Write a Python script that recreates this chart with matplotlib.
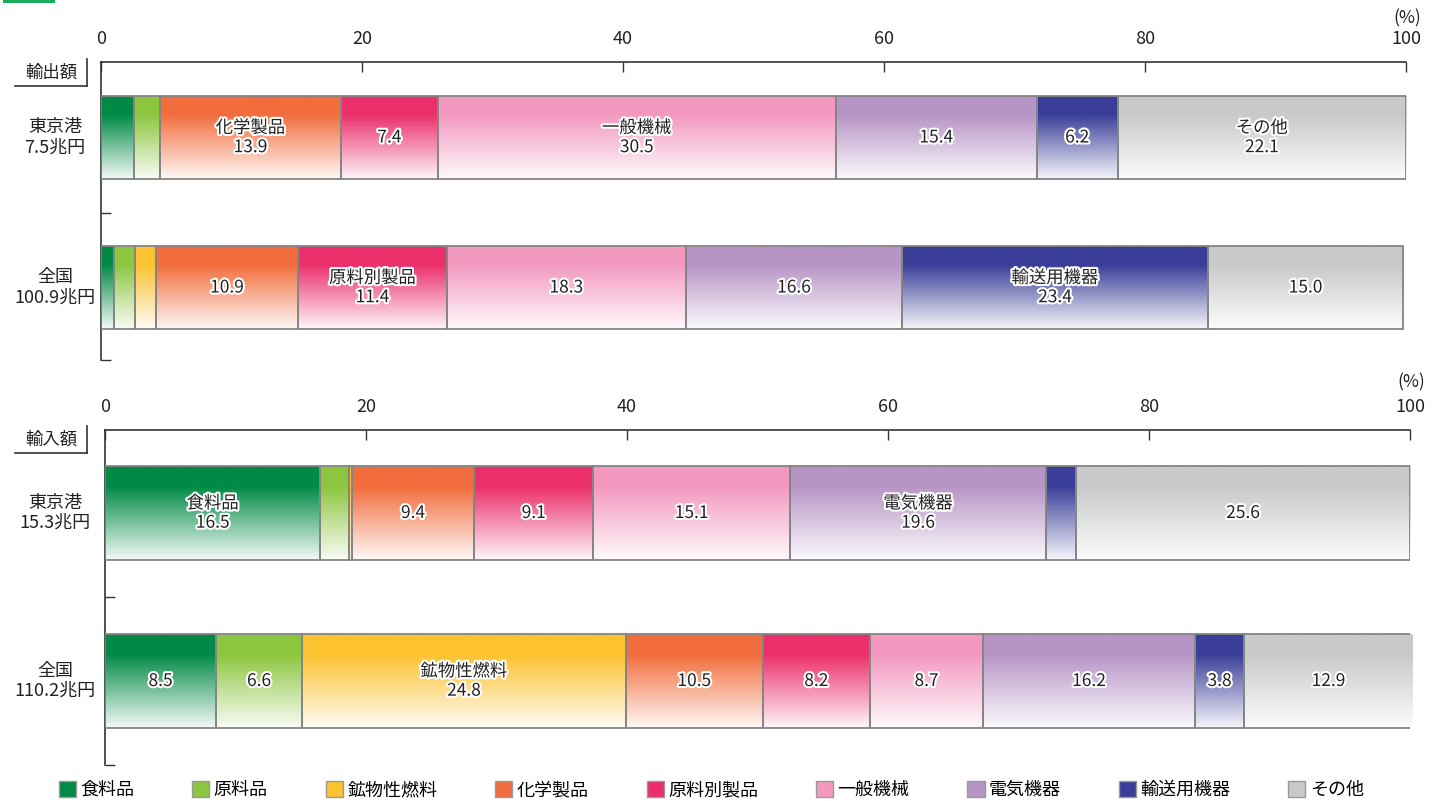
import matplotlib
matplotlib.use("Agg")
import matplotlib.pyplot as plt
import matplotlib.patheffects as pe
import numpy as np
from matplotlib.colors import to_rgb
from matplotlib.patches import Patch, Rectangle
from matplotlib.lines import Line2D
from matplotlib.transforms import blended_transform_factory

plt.rcParams["font.family"] = ["Noto Sans CJK JP", "DejaVu Sans"]

categories = ["食料品", "原料品", "鉱物性燃料", "化学製品", "原料別製品",
              "一般機械", "電気機器", "輸送用機器", "その他"]
colors = ["#008a45", "#8cc63f", "#fcc22f", "#f26d3d", "#eb2f6b",
          "#f399c0", "#b794c6", "#3a3e98", "#c8c9ca"]

export_rows = ["東京港\n7.5兆円", "全国\n100.9兆円"]
export_tokyo = [2.5, 2.0, 0.0, 13.9, 7.4, 30.5, 15.4, 6.2, 22.1]
export_japan = [1.0, 1.6, 1.6, 10.9, 11.4, 18.3, 16.6, 23.4, 15.0]
export_named = [["化学製品", "一般機械", "その他"], ["原料別製品", "輸送用機器"]]

import_rows = ["東京港\n15.3兆円", "全国\n110.2兆円"]
import_tokyo = [16.5, 2.2, 0.2, 9.4, 9.1, 15.1, 19.6, 2.3, 25.6]
import_japan = [8.5, 6.6, 24.8, 10.5, 8.2, 8.7, 16.2, 3.8, 12.9]
import_named = [["食料品", "電気機器"], ["鉱物性燃料"]]

xticks = [0, 20, 40, 60, 80, 100]

W, H = 1440, 801
fig = plt.figure(figsize=(W / 100, H / 100), dpi=100)
outline = [pe.withStroke(linewidth=3, foreground="white")]


def grad_img(hexcol):
    c = np.array(to_rgb(hexcol))
    t = np.linspace(0, 1, 80)[:, None]
    w = np.clip((t - 0.22) / 0.78, 0, 1) * 0.95
    img = c[None, :] * (1 - w) + w * np.ones(3)[None, :]
    return img[:, None, :]


def draw_panel(rect, rows, series, named, ylim, bar_h, title, title_y, pct_y):
    ax = fig.add_axes(rect)
    for i, vals in enumerate(series):
        left = np.concatenate([[0], np.cumsum(vals)[:-1]])
        bars = ax.barh([i] * len(vals), vals, left=left, height=bar_h,
                       color="none", edgecolor="#858585", linewidth=1.3, zorder=3)
        for b, v, l, cat, col in zip(bars, vals, left, categories, colors):
            if v <= 0:
                continue
            im = ax.imshow(grad_img(col), extent=(l, l + v, i + bar_h / 2, i - bar_h / 2),
                           aspect="auto", interpolation="bilinear", zorder=2)
            im.set_clip_path(b)
            if cat in named[i]:
                txt = f"{cat}\n{v:.1f}"
            elif v >= 3:
                txt = f"{v:.1f}"
            else:
                continue
            ax.text(l + v / 2, i, txt, ha="center", va="center", fontsize=12.5,
                    linespacing=1.1, color="#222222", path_effects=outline, zorder=5)
    ax.set_xlim(0, 100)
    ax.set_ylim(*ylim)
    ax.xaxis.tick_top()
    ax.set_xticks(xticks)
    ax.tick_params(axis="x", direction="in", length=7, width=1, color="#333333",
                   labelsize=13, pad=10, labelcolor="#222222")
    ax.set_yticks([0.5, ylim[0]])
    ax.set_yticklabels([])
    ax.tick_params(axis="y", direction="in", length=7, width=1, color="#333333")
    for s in ["right", "bottom"]:
        ax.spines[s].set_visible(False)
    for s in ["top", "left"]:
        ax.spines[s].set_color("#333333")
        ax.spines[s].set_linewidth(1.2)
    tr = blended_transform_factory(fig.transFigure, ax.transData)
    for i, r in enumerate(rows):
        ax.text(55 / W, i, r, transform=tr, ha="center", va="center", fontsize=13,
                linespacing=1.15, color="#222222", clip_on=False)
    # title box
    fig.text(51 / W, 1 - title_y / H, title, ha="center", va="center", fontsize=12.5,
             color="#222222")
    fig.add_artist(Line2D([15 / W, 87 / W], [1 - (title_y + 13) / H] * 2,
                          transform=fig.transFigure, color="#333333", lw=1.2))
    fig.add_artist(Line2D([87 / W, 87 / W], [1 - (title_y - 14) / H, 1 - (title_y + 13) / H],
                          transform=fig.transFigure, color="#333333", lw=1.2))
    fig.text((rect[0] + rect[2]) + 1 / W, 1 - pct_y / H, "(%)", ha="center", va="center",
             fontsize=12.5, color="#222222")
    return ax


draw_panel([101 / W, 1 - 360 / H, 1305 / W, 298 / H], export_rows,
           [export_tokyo, export_japan], export_named, (1.483, -0.503), 0.553,
           "輸出額", 73, 18)
draw_panel([105 / W, 1 - 765 / H, 1305 / W, 335 / H], import_rows,
           [import_tokyo, import_japan], import_named, (1.5, -0.494), 0.56,
           "輸入額", 440, 382)

fig.add_artist(Rectangle((3 / W, 1 - 3 / H), 52 / W, 3 / H, transform=fig.transFigure,
                         color="#1aab5c", lw=0))

handles = [Patch(facecolor=c, edgecolor="#999999", linewidth=1) for c in colors]
fig.legend(handles, categories, loc="center", bbox_to_anchor=(0.494, 1 - 790 / H), ncol=9,
           frameon=False, fontsize=13, handlelength=0.95, handleheight=0.95,
           handletextpad=0.25, columnspacing=3.2, borderaxespad=0)

fig.savefig("out.png", dpi=100)
